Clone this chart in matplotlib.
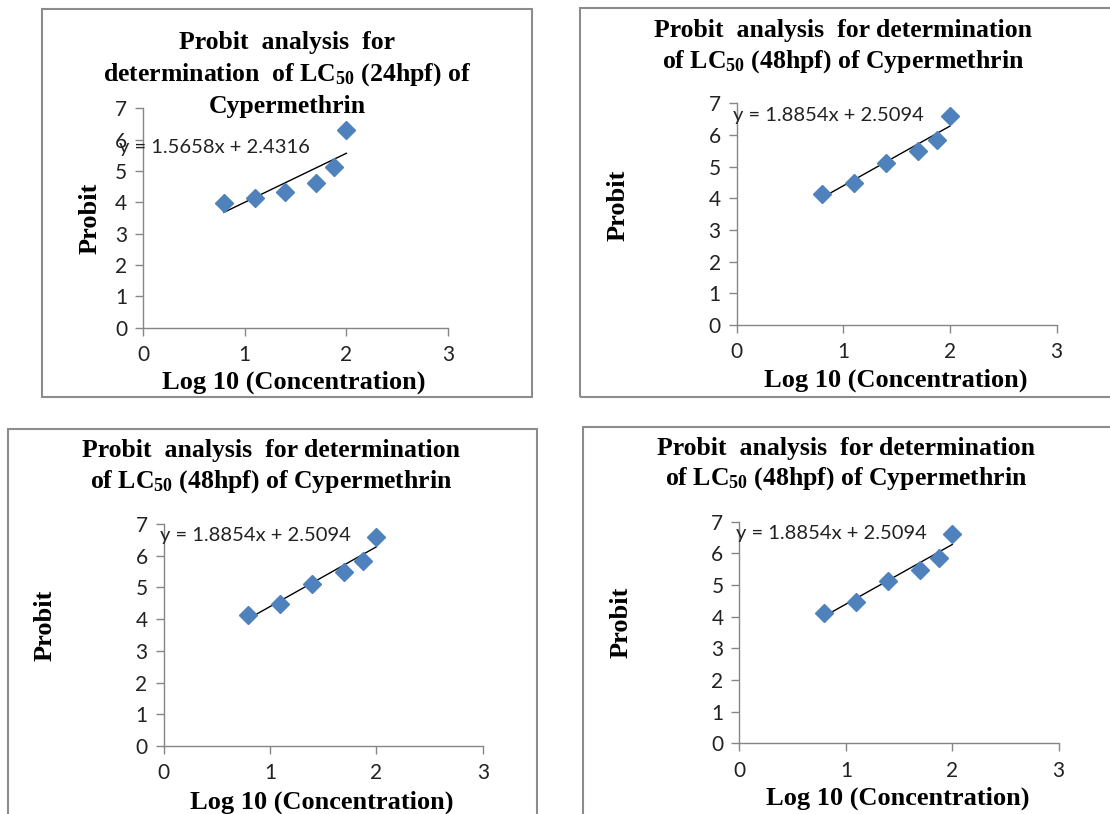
import numpy as np
import matplotlib
matplotlib.use("Agg")
import matplotlib.pyplot as plt
from matplotlib.patches import Rectangle

plt.rcParams["mathtext.fontset"] = "custom"
plt.rcParams["mathtext.rm"] = "Liberation Serif:bold"
plt.rcParams["mathtext.bf"] = "Liberation Serif:bold"
plt.rcParams["mathtext.it"] = "Liberation Serif:bold"

W, H = 1110, 814

# data
log_conc = [0.796, 1.097, 1.398, 1.699, 1.875, 2.0]
probit_24h = [3.98, 4.15, 4.32, 4.63, 5.14, 6.31]
probit_48h = [4.13, 4.47, 5.12, 5.49, 5.84, 6.60]
fit_24h = (1.5658, 2.4316)
fit_48h = (1.8854, 2.5094)
x_ticks = [0, 1, 2, 3]
y_ticks = [0, 1, 2, 3, 4, 5, 6, 7]

title_24h = ["Probit  analysis  for",
             r"determination  of LC$_{\mathrm{50}}$ (24hpf) of",
             "Cypermethrin"]
title_48h = ["Probit  analysis  for determination",
             r"of LC$_{\mathrm{50}}$ (48hpf) of Cypermethrin"]

# layout in pixels: border box, axes (x0, x3, y0, y7), title centre x + line ys, eq pos, ylabel pos, xlabel pos
PANELS = [
    dict(y=probit_24h, fit=fit_24h, title=title_24h,
         box=(42, 9, 532, 397), ax=(143, 448, 327.5, 108.3),
         tx=287, ty=[43, 75, 107], eq=(119, 147), yl=(90, 218), xl=(294, 382)),
    dict(y=probit_48h, fit=fit_48h, title=title_48h,
         box=(580, 8, 1125, 397), ax=(736.6, 1056.6, 325, 103.3),
         tx=843, ty=[30, 62], eq=(733, 115), yl=(618, 205), xl=(896, 380)),
    dict(y=probit_48h, fit=fit_48h, title=title_48h,
         box=(7.5, 429, 537, 830), ax=(163.5, 482.8, 746, 524),
         tx=271, ty=[450, 482], eq=(160, 536), yl=(45, 625), xl=(322, 802)),
    dict(y=probit_48h, fit=fit_48h, title=title_48h,
         box=(583, 427, 1125, 830), ax=(739.4, 1058.7, 743.3, 521.7),
         tx=846, ty=[448, 479], eq=(736, 533), yl=(621, 622), xl=(898, 798)),
]

AX_GREY = "#868686"
BLUE = "#4F81BD"
SERIF = "Liberation Serif"
SANS = "Lato"

fig = plt.figure(figsize=(W / 100, H / 100), dpi=100)


def fx(px):
    return px / W


def fy(py):
    return 1 - py / H


for p in PANELS:
    bx0, by0, bx1, by1 = p["box"]
    fig.add_artist(Rectangle((fx(bx0), fy(by1)), (bx1 - bx0) / W, (by1 - by0) / H,
                             transform=fig.transFigure, facecolor="none",
                             edgecolor="#8c8c8c", linewidth=1.5, clip_on=False))
    x0, x3, y0, y7 = p["ax"]
    ax = fig.add_axes([fx(x0), fy(y0), (x3 - x0) / W, (y0 - y7) / H])
    ax.set_xlim(0, 3); ax.set_ylim(0, 7)
    ax.set_xticks(x_ticks); ax.set_yticks(y_ticks)
    for s in ("top", "right"):
        ax.spines[s].set_visible(False)
    for s in ("left", "bottom"):
        ax.spines[s].set_color(AX_GREY); ax.spines[s].set_linewidth(1.0)
    ax.tick_params(axis="both", direction="out", length=5.5, width=1.0, color=AX_GREY,
                   labelsize=15, labelcolor="#222222")
    ax.tick_params(axis="y", pad=6)
    ax.tick_params(axis="x", pad=7)
    for lab in ax.get_xticklabels() + ax.get_yticklabels():
        lab.set_family(SANS)
    ax.patch.set_alpha(0)

    xs = np.array([min(log_conc), max(log_conc)])
    m, c = p["fit"]
    ax.plot(xs, m * xs + c, color="black", linewidth=1.0, zorder=2)
    ax.plot(log_conc, p["y"], linestyle="none", marker="D", markersize=9.5,
            color=BLUE, markeredgecolor=BLUE, zorder=3, clip_on=False)

    for line, yy in zip(p["title"], p["ty"]):
        fig.text(fx(p["tx"]), fy(yy), line, ha="center", va="center", fontsize=18.5,
                 fontweight="bold", family=SERIF)
    fig.text(fx(p["eq"][0]), fy(p["eq"][1]), "y = %.4fx + %.4f" % (m, c), ha="left",
             va="center", fontsize=14.5, family=SANS, color="#222222")
    fig.text(fx(p["yl"][0]), fy(p["yl"][1]), "Probit", rotation=90, ha="center",
             va="center", fontsize=19, fontweight="bold", family=SERIF)
    fig.text(fx(p["xl"][0]), fy(p["xl"][1]), "Log 10 (Concentration)", ha="center",
             va="center", fontsize=19, fontweight="bold", family=SERIF)

fig.savefig("out.png", dpi=100)
